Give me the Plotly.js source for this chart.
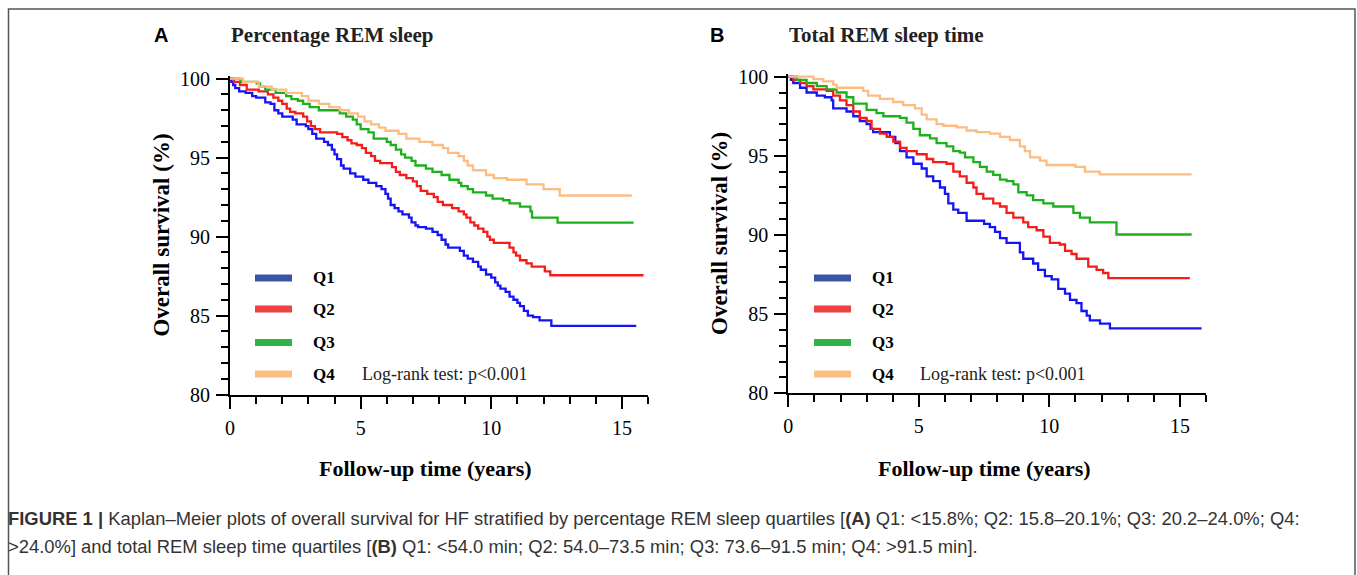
<!DOCTYPE html>
<html>
<head>
<meta charset="utf-8">
<script src="https://cdn.plot.ly/plotly-3.0.1.min.js"></script>
<style>html,body{margin:0;padding:0;background:#fff;}#chart{width:1357px;height:575px;}</style>
</head>
<body>
<div id="chart"></div>
<script>
// ---------- Data ----------
const seriesNames = ["Q1", "Q2", "Q3", "Q4"];

// Panel A: Percentage REM sleep
const A_Q1_t = [0,0.05,0.12,0.2,0.35,0.6,0.85,1.0,1.35,1.55,1.7,1.85,2.0,2.4,2.55,2.9,3.0,3.15,3.3,3.6,3.75,3.9,4.0,4.1,4.25,4.35,4.6,4.8,5.1,5.3,5.6,5.8,5.95,6.05,6.15,6.3,6.45,6.6,6.85,6.95,7.1,7.2,7.5,7.75,7.95,8.1,8.25,8.35,8.8,8.95,9.1,9.3,9.5,9.6,9.8,10.0,10.15,10.25,10.35,10.55,10.7,10.85,11.0,11.1,11.25,11.4,11.6,11.85,12.3,15.55];
const A_Q1_s = [100,99.8,99.6,99.4,99.2,99.1,98.9,98.8,98.5,98.4,98.0,97.8,97.6,97.4,97.1,97.0,96.8,96.5,96.2,96.0,95.8,95.5,95.2,94.9,94.5,94.3,94.0,93.8,93.6,93.4,93.2,93.0,92.7,92.4,92.0,91.8,91.6,91.4,91.2,90.9,90.7,90.6,90.5,90.3,90.1,89.8,89.5,89.3,89.1,88.8,88.6,88.4,88.1,87.9,87.6,87.4,87.1,86.9,86.7,86.5,86.2,86.0,85.8,85.6,85.3,85.0,84.9,84.7,84.35,84.35];

const A_Q2_t = [0,0.15,0.38,0.64,1.1,1.45,1.66,1.85,2.0,2.17,2.3,2.5,2.8,2.95,3.1,3.25,3.45,4.1,4.3,4.5,4.65,4.85,5.05,5.2,5.4,5.55,5.75,6.2,6.35,6.5,6.75,7.0,7.15,7.3,7.55,7.8,7.95,8.15,8.5,8.75,8.95,9.05,9.2,9.35,9.5,9.7,9.85,9.95,10.1,10.7,10.85,10.95,11.1,11.35,11.55,12.05,12.26,15.83];
const A_Q2_s = [100,99.8,99.6,99.3,99.2,99.0,98.8,98.6,98.4,98.1,97.9,97.8,97.6,97.3,97.0,96.8,96.6,96.5,96.3,96.1,95.9,95.8,95.6,95.3,95.1,94.8,94.65,94.4,94.1,93.9,93.7,93.5,93.2,92.9,92.7,92.5,92.2,92.0,91.8,91.6,91.4,91.2,90.9,90.7,90.5,90.3,90.0,89.8,89.6,89.3,89.0,88.8,88.5,88.3,88.1,87.8,87.55,87.55];

const A_Q3_t = [0,0.4,1.02,1.15,1.35,1.75,2.15,2.35,2.6,2.8,3.05,3.4,4.2,4.45,4.7,4.85,5.0,5.3,5.5,6.0,6.15,6.35,6.55,6.7,6.95,7.1,7.5,7.75,8.1,8.4,8.75,8.85,9.1,9.3,9.8,10.05,10.45,10.7,11.1,11.5,11.56,12.54,15.45];
const A_Q3_s = [100,99.8,99.7,99.5,99.3,99.1,98.9,98.7,98.6,98.4,98.2,98.0,97.8,97.6,97.4,97.1,96.8,96.6,96.2,96.0,95.8,95.5,95.2,95.0,94.8,94.5,94.3,94.1,93.9,93.6,93.4,93.2,93.0,92.8,92.6,92.4,92.3,92.1,91.9,91.6,91.2,90.88,90.88];

const A_Q4_t = [0,0.5,1.1,1.6,2.15,2.75,3.0,3.4,3.8,4.2,4.55,4.9,5.15,5.4,5.7,5.95,6.45,6.75,7.25,7.75,8.15,8.35,8.75,8.95,9.1,9.3,9.8,10.1,10.6,11.35,12.0,12.62,15.38];
const A_Q4_s = [100,99.8,99.5,99.3,99.1,98.9,98.6,98.4,98.2,98.0,97.8,97.6,97.3,97.1,96.9,96.7,96.5,96.2,96.0,95.8,95.6,95.3,95.1,94.8,94.5,94.2,93.9,93.7,93.6,93.3,93.0,92.6,92.6];

// Panel B: Total REM sleep time
const B_Q1_t = [0,0.1,0.19,0.45,0.7,1.09,1.4,1.66,1.72,2.23,2.49,2.74,3.0,3.15,3.25,3.89,4.1,4.28,4.53,4.79,5.11,5.3,5.55,5.81,6.0,6.13,6.32,6.51,6.83,7.5,7.72,7.92,8.11,8.36,8.87,9.0,9.38,9.57,9.83,10.09,10.34,10.6,10.79,11.04,11.23,11.43,11.55,11.94,12.32,15.83];
const B_Q1_s = [100,99.8,99.6,99.3,99.0,98.8,98.7,98.5,98.0,97.8,97.5,97.2,97.0,96.7,96.5,96.2,95.8,95.3,94.9,94.5,94.2,93.7,93.4,93.0,92.6,92.0,91.6,91.4,90.9,90.7,90.5,90.2,89.8,89.5,88.9,88.5,88.2,87.8,87.4,87.2,86.6,86.3,85.9,85.7,85.2,84.9,84.6,84.4,84.1,84.1];

const B_Q2_t = [0,0.19,0.45,0.7,0.96,1.47,1.72,1.98,2.23,2.49,2.74,3.0,3.19,3.51,3.77,4.02,4.28,4.53,4.92,5.3,5.55,6.06,6.32,6.57,6.83,7.09,7.21,7.47,7.85,8.11,8.36,8.62,9.0,9.19,9.51,9.77,10.02,10.4,10.6,10.85,11.04,11.49,11.81,12.06,12.26,15.38];
const B_Q2_s = [100,99.8,99.6,99.4,99.2,99.1,98.8,98.5,98.2,97.8,97.4,97.2,96.7,96.4,96.2,95.9,95.5,95.3,95.1,94.8,94.6,94.5,94.0,93.7,93.3,93.0,92.6,92.3,92.0,91.8,91.4,91.1,90.8,90.5,90.3,89.9,89.5,89.4,89.0,88.8,88.5,88.0,87.8,87.6,87.27,87.27];

const B_Q3_t = [0,0.32,0.7,1.09,1.47,1.85,2.23,2.49,3.0,3.38,3.64,4.28,4.53,4.79,5.04,5.43,5.68,6.06,6.32,6.57,6.77,7.09,7.34,7.6,7.85,8.11,8.36,8.62,8.81,9.13,9.38,9.77,10.15,10.92,11.17,11.55,12.57,15.45];
const B_Q3_s = [100,99.8,99.6,99.4,99.2,99.0,98.7,98.3,97.9,97.7,97.5,97.4,97.1,96.7,96.3,96.1,95.8,95.6,95.3,95.2,94.9,94.6,94.3,94.0,93.8,93.5,93.4,93.2,92.7,92.5,92.2,92.0,91.8,91.4,91.1,90.8,90.03,90.03];

const B_Q4_t = [0,0.96,1.34,1.72,1.85,2.87,3.06,3.51,4.02,4.4,4.85,5.11,5.3,5.68,5.94,6.45,6.83,7.21,7.72,8.11,8.49,8.87,9.06,9.26,9.64,9.89,11.0,11.36,11.93,15.45];
const B_Q4_s = [100,99.85,99.7,99.5,99.3,99.1,98.8,98.6,98.4,98.2,98.0,97.6,97.3,97.0,96.9,96.8,96.6,96.5,96.4,96.2,96.0,95.6,95.3,94.9,94.7,94.42,94.3,94.0,93.83,93.83];

const yTickVals = [80, 85, 90, 95, 100];
const xTickVals = [0, 5, 10, 15];
const panelLetters = ["A", "B"];
const panelTitles = ["Percentage REM sleep", "Total REM sleep time"];
const xTitle = "Follow-up time (years)";
const yTitle = "Overall survival (%)";
const logRankText = "Log-rank test: p<0.001";
const captionLine1 = "<b>FIGURE 1 |</b> Kaplan–Meier plots of overall survival for HF stratified by percentage REM sleep quartiles [<b>(A)</b> Q1: &lt;15.8%; Q2: 15.8–20.1%; Q3: 20.2–24.0%; Q4:";
const captionLine2 = "&gt;24.0%] and total REM sleep time quartiles [<b>(B)</b> Q1: &lt;54.0 min; Q2: 54.0–73.5 min; Q3: 73.6–91.5 min; Q4: &gt;91.5 min].";

// ---------- Styling ----------
const W = 1357, H = 575;
const lineColors = ["#1414f5", "#f51c1c", "#1cb01c", "#fdbd82"];
const legendColors = ["#3b55a5", "#ee4242", "#33b24a", "#fdbe86"];
const serif = "Liberation Serif, 'Times New Roman', serif";
const sans = "Liberation Sans, Arial, sans-serif";
const px = x => x / W;
const py = y => 1 - y / H;

const panelData = [
  [[A_Q1_t, A_Q1_s], [A_Q2_t, A_Q2_s], [A_Q3_t, A_Q3_s], [A_Q4_t, A_Q4_s]],
  [[B_Q1_t, B_Q1_s], [B_Q2_t, B_Q2_s], [B_Q3_t, B_Q3_s], [B_Q4_t, B_Q4_s]]
];

const traces = [];
panelData.forEach((panel, p) => {
  panel.forEach((d, i) => {
    traces.push({
      type: "scatter", mode: "lines",
      x: d[0], y: d[1],
      xaxis: p === 0 ? "x" : "x2", yaxis: p === 0 ? "y" : "y2",
      line: {color: lineColors[i], width: 2.3, shape: "hv"},
      name: seriesNames[i], showlegend: false, hoverinfo: "skip"
    });
  });
});

function xAxis(domain, anchor) {
  return {
    domain: domain, anchor: anchor, range: [0, 16], showgrid: false, zeroline: false,
    showline: true, linecolor: "#000", linewidth: 2,
    tickmode: "array", tickvals: xTickVals, ticks: "outside", ticklen: 12, tickwidth: 2, tickcolor: "#000",
    ticklabelstandoff: 2,
    minor: {dtick: 1, tick0: 0, ticks: "outside", ticklen: 7, tickwidth: 2, tickcolor: "#000", showgrid: false},
    tickfont: {family: serif, size: 20, color: "#000"}, fixedrange: true
  };
}
function yAxis(domain, anchor) {
  return {
    domain: domain, anchor: anchor, range: [80, 100.2], showgrid: false, zeroline: false,
    showline: true, linecolor: "#000", linewidth: 2,
    tickmode: "array", tickvals: yTickVals, ticks: "outside", ticklen: 12, tickwidth: 2, tickcolor: "#000",
    ticklabelstandoff: 2,
    minor: {dtick: 1, tick0: 80, ticks: "outside", ticklen: 7, tickwidth: 2, tickcolor: "#000", showgrid: false},
    tickfont: {family: serif, size: 20, color: "#000"},
    title: {text: "<b>" + yTitle + "</b>", font: {family: serif, size: 23, color: "#000"}, standoff: 4},
    fixedrange: true
  };
}

const annotations = [];
const shapes = [];
const panelGeom = [
  {letterX: 152, titleX: 229, legX0: 255, legX1: 292, qX: 311, lrX: 360, xAxisName: "x"},
  {letterX: 708, titleX: 787, legX0: 814, legX1: 851, qX: 870, lrX: 918, xAxisName: "x2"}
];
const legY = [278, 309, 342.5, 374];

panelGeom.forEach((g, p) => {
  annotations.push({xref: "paper", yref: "paper", x: px(g.letterX), y: py(35), xanchor: "left", yanchor: "middle",
    text: "<b>" + panelLetters[p] + "</b>", showarrow: false, font: {family: sans, size: 20, color: "#000"}});
  annotations.push({xref: "paper", yref: "paper", x: px(g.titleX), y: py(35), xanchor: "left", yanchor: "middle",
    text: "<b>" + panelTitles[p] + "</b>", showarrow: false, font: {family: serif, size: 21, color: "#222"}});
  annotations.push({xref: g.xAxisName, yref: "paper", x: 7.5, y: py(468), xanchor: "center", yanchor: "middle",
    text: "<b>" + xTitle + "</b>", showarrow: false, font: {family: serif, size: 22, color: "#000"}});
  seriesNames.forEach((n, i) => {
    shapes.push({type: "line", xref: "paper", yref: "paper", x0: px(g.legX0), x1: px(g.legX1), y0: py(legY[i]), y1: py(legY[i]),
      line: {color: legendColors[i], width: 7}});
    annotations.push({xref: "paper", yref: "paper", x: px(g.qX), y: py(legY[i]), xanchor: "left", yanchor: "middle",
      text: "<b>" + n + "</b>", showarrow: false, font: {family: serif, size: 17, color: "#000"}});
  });
  annotations.push({xref: "paper", yref: "paper", x: px(g.lrX), y: py(legY[3]), xanchor: "left", yanchor: "middle",
    text: logRankText, showarrow: false, font: {family: serif, size: 18, color: "#222"}});
});

annotations.push({xref: "paper", yref: "paper", x: px(6), y: py(518), xanchor: "left", yanchor: "middle",
  text: captionLine1, showarrow: false, font: {family: sans, size: 18.4, color: "#333"}});
annotations.push({xref: "paper", yref: "paper", x: px(6), y: py(546), xanchor: "left", yanchor: "middle",
  text: captionLine2, showarrow: false, font: {family: sans, size: 18.4, color: "#333"}});

shapes.push({type: "rect", xref: "paper", yref: "paper", x0: px(8.5), x1: px(1355), y0: py(9), y1: -0.1,
  line: {color: "#555", width: 1.5}, fillcolor: "rgba(0,0,0,0)"});

const layout = {
  width: W, height: H, margin: {l: 0, r: 0, t: 0, b: 0},
  paper_bgcolor: "#fff", plot_bgcolor: "#fff", showlegend: false,
  xaxis: xAxis([px(230), px(648)], "y"),
  yaxis: yAxis([py(394.5), py(75.5)], "x"),
  xaxis2: xAxis([px(788.3), px(1206)], "y2"),
  yaxis2: yAxis([py(393.3), py(73.5)], "x2"),
  annotations: annotations, shapes: shapes
};

Plotly.newPlot("chart", traces, layout, {displayModeBar: false, staticPlot: true});
</script>
</body>
</html>
